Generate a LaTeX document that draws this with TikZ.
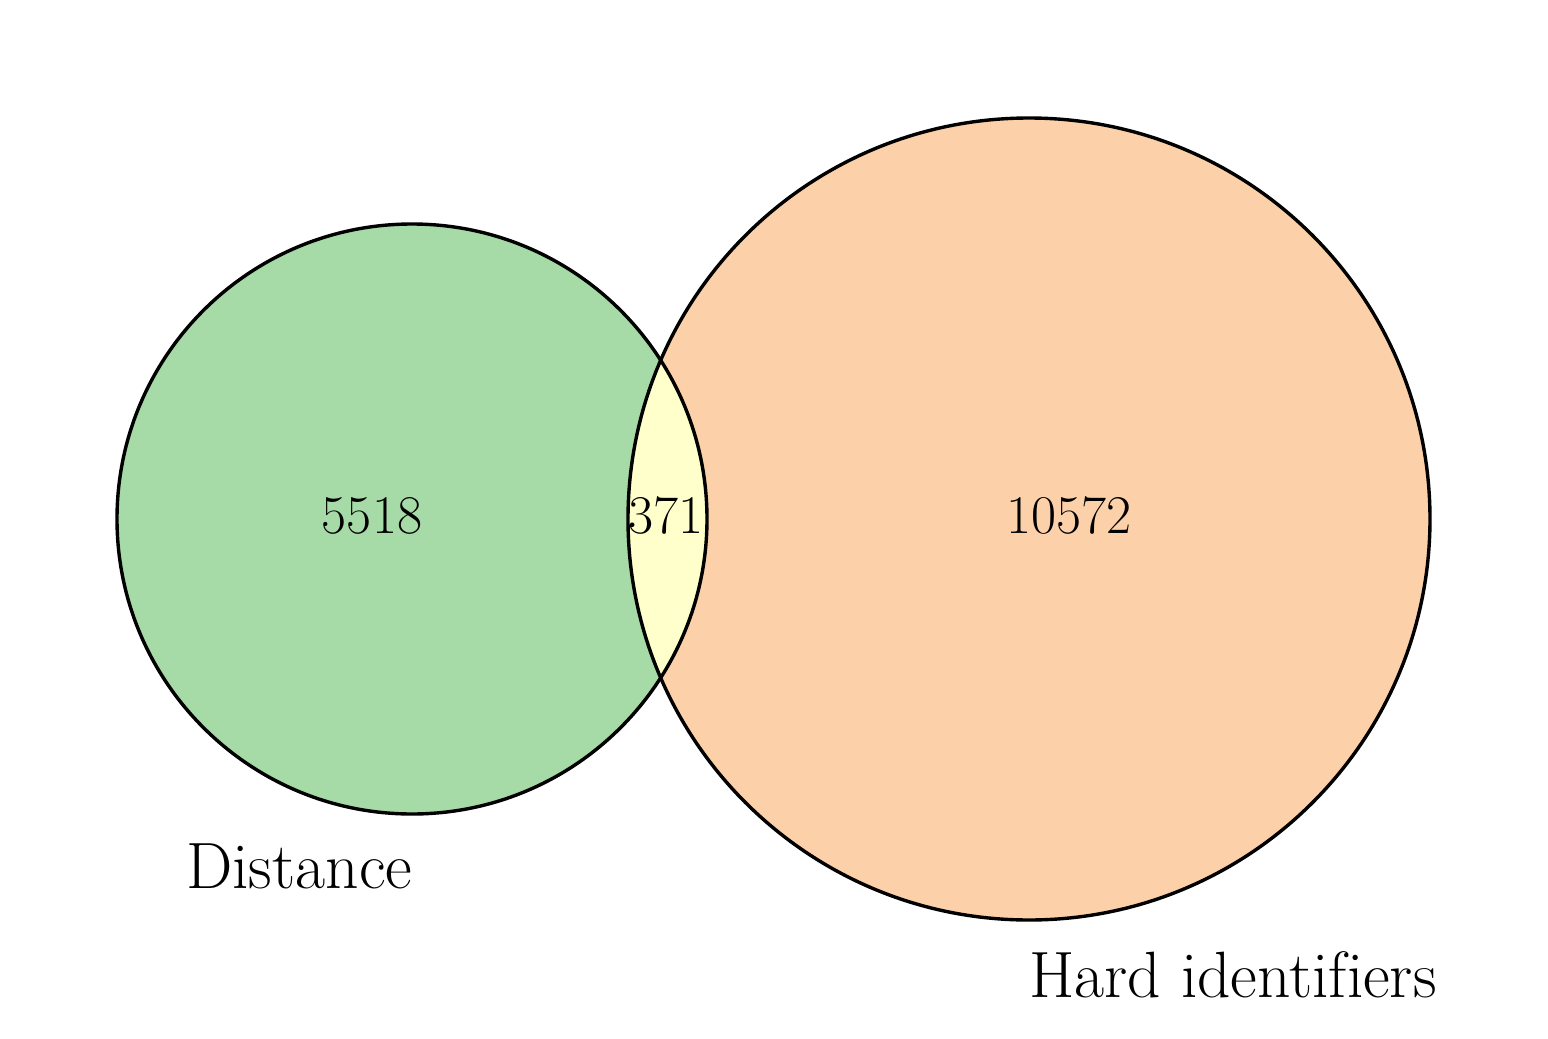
\documentclass[tikz,border=0pt]{standalone}
\begin{document}
\begin{tikzpicture}[x=1pt,y=-1pt,
  ring/.style={draw=black,line width=3.4pt},
  numlabel/.style={inner sep=0pt,anchor=base,font=\fontsize{54.5}{64}\selectfont},
  setlabel/.style={inner sep=0pt,anchor=base west,font=\fontsize{65.5}{78}\selectfont}]
\definecolor{vgreen}{RGB}{166,218,166}
\definecolor{vorange}{RGB}{252,209,169}
\definecolor{vyellow}{RGB}{255,255,204}
\useasboundingbox (0,0) rectangle (1548,1039);
\coordinate (cA) at (412,519);
\coordinate (cB) at (1029,519);
\fill[vgreen] (cA) circle (295);
\fill[vorange] (cB) circle (401);
\begin{scope}
  \clip (cA) circle (295);
  \fill[vyellow] (cB) circle (401);
\end{scope}
\draw[ring] (cA) circle (295);
\draw[ring] (cB) circle (401);
\node[numlabel] (nA) at (372,533) {5518};
\node[numlabel] (nAB) at (666,533) {371};
\node[numlabel] (nB) at (1069,533) {10572};
\node[setlabel] (lA) at (186,888) {Distance};
\node[setlabel] (lB) at (1029,997) {Hard identif\kern0pt iers};
\end{tikzpicture}
\end{document}
